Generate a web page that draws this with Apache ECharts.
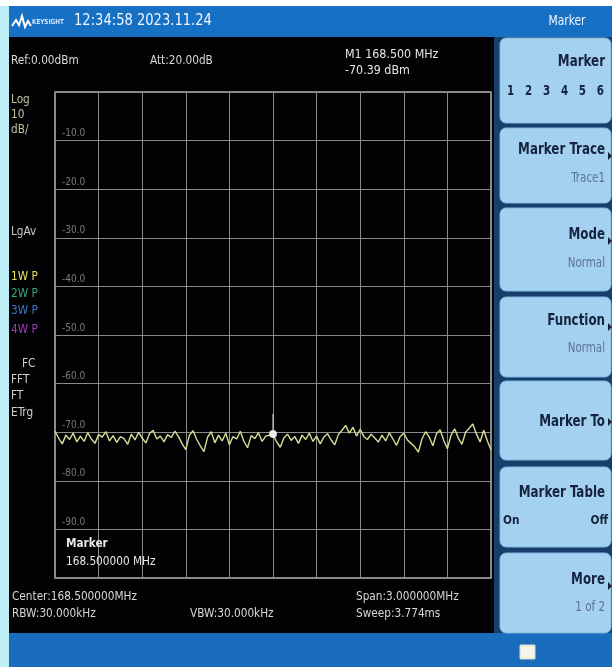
<!DOCTYPE html>
<html><head><meta charset="utf-8">
<script src="https://cdn.jsdelivr.net/npm/echarts@6/dist/echarts.min.js"></script>
<style>html,body{margin:0;padding:0;background:#fff}#c{width:616px;height:667px}</style>
</head><body><div id="c"></div>
<script>
// ---- data ----
const freqStart = 167.0;   // MHz (center 168.5, span 3 MHz)
const freqStop = 170.0;
const freqStep = 0.025;
const traceLevels = [
 -69.8,-71.2,-72.4,-70.6,-71.5,-70.2,-72.0,-70.8,-71.9,-70.1,
 -71.4,-72.3,-70.5,-71.0,-69.9,-71.8,-70.7,-72.1,-70.9,-71.3,
 -72.5,-70.4,-71.6,-70.0,-71.2,-72.2,-70.3,-69.6,-71.4,-70.8,
 -72.0,-70.5,-71.1,-69.8,-70.9,-72.4,-73.6,-70.6,-69.7,-71.5,
 -72.8,-74.0,-71.0,-69.9,-72.2,-70.6,-71.8,-70.2,-72.6,-70.9,
 -71.4,-69.8,-71.9,-73.2,-70.7,-71.3,-70.1,-71.9,-70.8,-70.6,
 -70.39,-72.0,-73.1,-71.2,-70.4,-71.7,-70.9,-72.3,-70.6,-71.5,
 -70.2,-71.9,-70.8,-72.4,-71.0,-70.3,-71.6,-72.6,-70.5,-69.6,
 -68.6,-70.2,-69.0,-70.8,-69.4,-70.9,-71.5,-70.4,-71.2,-72.0,
 -70.6,-71.8,-70.1,-71.4,-72.7,-70.9,-70.2,-71.6,-72.3,-73.0,
 -74.1,-71.4,-69.9,-71.0,-72.8,-70.3,-69.5,-71.7,-73.4,-70.6,
 -69.3,-71.2,-72.5,-70.0,-69.2,-68.3,-70.4,-72.0,-69.6,-71.8,-73.6
];
const markerFreq = 168.5;
const markerLevel = -70.39;
const yMin = -100, yMax = 0, yStep = 10;
const yTickLabels = ['-10.0','-20.0','-30.0','-40.0','-50.0','-60.0','-70.0','-80.0','-90.0'];

const headerTime = '12:34:58 2023.11.24';
const statusTop = ['Ref:0.00dBm','Att:20.00dB'];
const markerReadout = ['M1 168.500 MHz','-70.39 dBm'];
const sideLabels = [
  {t:'Log',y:100,c:'#b9c79a'},{t:'10',y:115,c:'#b9c79a'},{t:'dB/',y:130,c:'#b9c79a'},
  {t:'LgAv',y:232,c:'#c8c8c8'},
  {t:'1W P',y:277,c:'#e6e060'},{t:'2W P',y:294,c:'#3fa878'},
  {t:'3W P',y:311,c:'#3f78c8'},{t:'4W P',y:330,c:'#9a3cc0'},
  {t:'FC',y:364,c:'#d0d0d0',x:22},{t:'FFT',y:380,c:'#d0d0d0'},{t:'FT',y:396,c:'#d0d0d0'},{t:'ETrg',y:413,c:'#d0d0d0'}
];
const bottomInfo = [
  {t:'Center:168.500000MHz',x:12,y:597},{t:'Span:3.000000MHz',x:356,y:597},
  {t:'RBW:30.000kHz',x:12,y:614},{t:'VBW:30.000kHz',x:190,y:614},{t:'Sweep:3.774ms',x:356,y:614}
];
const softKeys = [
  {y0:38,y1:123,l1:'Marker',l1y:62,l2:'1   2   3   4   5   6',l2y:91,dark2:true},
  {y0:128,y1:203,l1:'Marker Trace',l1y:150,l2:'Trace1',l2y:178,arrow:true},
  {y0:208,y1:291,l1:'Mode',l1y:235,l2:'Normal',l2y:263,arrow:true},
  {y0:297,y1:377,l1:'Function',l1y:321,l2:'Normal',l2y:348,arrow:true},
  {y0:381,y1:460,l1:'Marker To',l1y:422,arrow:true},
  {y0:467,y1:547,l1:'Marker Table',l1y:493,onoff:true},
  {y0:553,y1:633,l1:'More',l1y:580,l2:'1 of 2',l2y:607,arrow:true}
];

// ---- build ----
const FONT = '"Liberation Sans Narrow","DejaVu Sans Condensed","Liberation Sans",sans-serif';
const traceData = traceLevels.map((v,i)=>[freqStart + i*freqStep, v]);

function txt(t,x,y,fill,font,align,sx){
  return {type:'text',x:x,y:y,scaleX:sx||1,scaleY:1,z:5,
    style:{text:t,x:0,y:0,fill:fill,font:font,textAlign:align||'left',textVerticalAlign:'middle'}};
}
const g = [];
g.push({type:'rect',shape:{x:0,y:0,width:616,height:667},style:{fill:'#ffffff'},z:-20});
g.push({type:'rect',shape:{x:0,y:6,width:9,height:661},style:{fill:'#bdeef6'},z:-19});
g.push({type:'rect',shape:{x:9,y:6,width:603,height:31},style:{fill:'#1670c4'},z:-19});
g.push({type:'rect',shape:{x:9,y:37,width:488,height:596},style:{fill:'#020204'},z:-19});
g.push({type:'rect',shape:{x:494,y:37,width:118,height:596},style:{fill:'#173f6a'},z:-19});
g.push({type:'rect',shape:{x:9,y:633,width:603,height:34},style:{fill:'#1a6cbd'},z:-19});
g.push({type:'rect',shape:{x:520,y:645,width:15,height:14},style:{fill:'#f4f4e8',stroke:'#d8d8c8'},z:5});
// logo
g.push({type:'polyline',shape:{points:[[12,26],[16,20],[19,25],[22,16],[25,27],[28,21],[31,26]]},style:{stroke:'#ffffff',lineWidth:2,fill:null},z:5});
g.push(txt('KEYSIGHT',32,22,'#d8e6ff','bold 7px '+FONT,'left',0.9));
g.push(txt(headerTime,74,21,'#f2f6ff','15px '+FONT,'left',0.97));
g.push(txt('Marker',567,21,'#f2f6ff','14px '+FONT,'center',0.85));
// top status
g.push(txt(statusTop[0],11,61,'#d8d8d8','13px '+FONT,'left',0.9));
g.push(txt(statusTop[1],150,61,'#d8d8d8','13px '+FONT,'left',0.9));
g.push(txt(markerReadout[0],345,55,'#e6e6e6','13px '+FONT,'left',0.95));
g.push(txt(markerReadout[1],345,71,'#e6e6e6','13px '+FONT,'left',0.95));
sideLabels.forEach(s=>g.push(txt(s.t,s.x||11,s.y,s.c,'13px '+FONT,'left',0.9)));
bottomInfo.forEach(s=>g.push(txt(s.t,s.x,s.y,'#d8d8d8','13px '+FONT,'left',0.9)));
// marker box
g.push(txt('Marker',66,544,'#e8e8e8','bold 13px '+FONT,'left',0.9));
g.push(txt('168.500000 MHz',66,562,'#e8e8e8','13px '+FONT,'left',0.9));
// soft keys
softKeys.forEach(k=>{
  g.push({type:'rect',shape:{x:500,y:k.y0,width:111,height:k.y1-k.y0,r:6},style:{fill:'#a4d1f0',stroke:'#7fb9e0',lineWidth:1},z:-5});
  g.push(txt(k.l1,605,k.l1y,'#15233e','bold 15px '+FONT,'right',0.88));
  if(k.l2) g.push(txt(k.l2,k.dark2?604:605,k.l2y,k.dark2?'#15233e':'#5b7591',(k.dark2?'bold ':'')+'14px '+FONT,'right',0.82));
  if(k.onoff){
    g.push(txt('On',503,521,'#15233e','bold 13px '+FONT,'left',0.9));
    g.push(txt('Off',608,521,'#15233e','bold 13px '+FONT,'right',0.9));
  }
  if(k.arrow){
    const ay = k.l2 ? (k.l1y+6) : k.l1y;
    g.push({type:'polygon',shape:{points:[[608,ay-4],[612,ay],[608,ay+4]]},style:{fill:'#15233e'},z:5});
  }
});

const chart = echarts.init(document.getElementById('c'),null,{renderer:'canvas'});
chart.setOption({
  animation:false,
  backgroundColor:'#ffffff',
  graphic:g,
  grid:{left:55,top:92,width:436,height:486,show:true,borderColor:'#b4b4b4',borderWidth:1.5,backgroundColor:'transparent'},
  xAxis:{type:'value',min:freqStart,max:freqStop,interval:0.3,
    axisLine:{show:false},axisTick:{show:false},axisLabel:{show:false},
    splitLine:{show:true,lineStyle:{color:'#8a8a8a',width:1}}},
  yAxis:{type:'value',min:yMin,max:yMax,interval:yStep,
    axisLine:{show:false},axisTick:{show:false},
    axisLabel:{inside:true,margin:7,color:'#7a7a7a',fontSize:10,fontFamily:FONT,verticalAlign:'bottom',padding:[0,0,2,0],
      formatter:v=>{const i=Math.round(-v/yStep)-1; return (i>=0&&i<yTickLabels.length)?yTickLabels[i]:'';}},
    splitLine:{show:true,lineStyle:{color:'#8a8a8a',width:1}}},
  series:[
    {type:'line',data:traceData,showSymbol:false,symbol:'none',lineStyle:{color:'#d6df94',width:1.4},z:3},
    {type:'scatter',data:[[markerFreq,markerLevel]],symbol:'rect',symbolSize:[1.2,16],symbolOffset:[0,-12],itemStyle:{color:'#e8e8e8'},z:4},
    {type:'scatter',data:[[markerFreq,markerLevel]],symbol:'emptyCircle',symbolSize:6,itemStyle:{color:'#ffffff',borderColor:'#ffffff',borderWidth:1.2},z:5}
  ]
});
</script></body></html>
